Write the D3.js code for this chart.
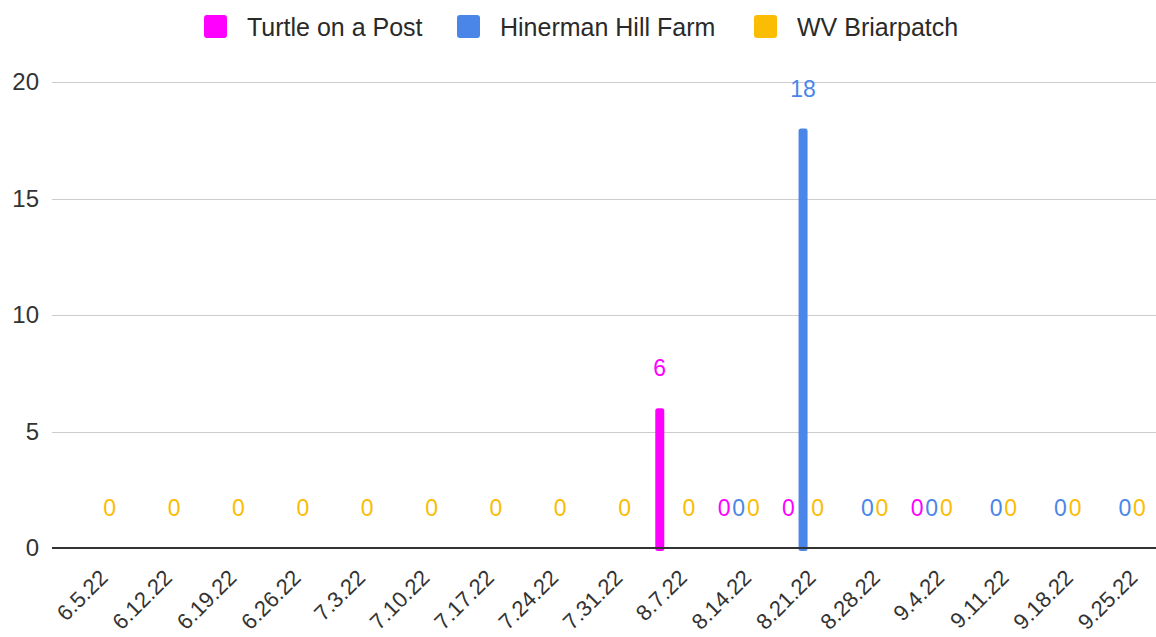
<!DOCTYPE html>
<html lang="en">
    <head>
        <meta charset="utf-8">
        <title>Weekly counts</title>
        <script src="https://cdn.jsdelivr.net/npm/d3@7"></script>
        <style type="text/css">
        body { margin: 0; background: #fff; }
        text { font-family: "Liberation Sans", Arial, sans-serif; }
        .grid line { stroke: #cccccc; stroke-width: 1; shape-rendering: crispEdges; }
        .axis text { fill: #333; font-size: 24px; }
        .legend text { fill: #2a2a2a; font-size: 25px; }
        .label { font-size: 23px; text-anchor: middle; }
        </style>
    </head>
    <body>
        <script>
                var w = 1156;
                var h = 637;

                var dates = ["6.5.22", "6.12.22", "6.19.22", "6.26.22", "7.3.22", "7.10.22", "7.17.22", "7.24.22", "7.31.22",
                             "8.7.22", "8.14.22", "8.21.22", "8.28.22", "9.4.22", "9.11.22", "9.18.22", "9.25.22"];
                var turtle   = [null, null, null, null, null, null, null, null, null, 6, 0, 0, null, 0, null, null, null];
                var hinerman = [null, null, null, null, null, null, null, null, null, null, 0, 18, 0, 0, 0, 0, 0];
                var briar    = [0, 0, 0, 0, 0, 0, 0, 0, 0, 0, 0, 0, 0, 0, 0, 0, 0];
                var seriesNames = ["Turtle on a Post", "Hinerman Hill Farm", "WV Briarpatch"];
                var colors = ["#ff00ff", "#4a86e8", "#fbbc04"];
                var yTicks = [0, 5, 10, 15, 20];

                var seriesData = [turtle, hinerman, briar];

                var x0 = d3.scaleBand()
                  .domain(dates)
                  .range([63, 1157])
                  .paddingInner(0.32)
                  .paddingOuter(0.16);

                var x1 = d3.scaleBand()
                  .domain(seriesNames)
                  .range([0, x0.bandwidth()]);

                var y = d3.scaleLinear()
                  .domain([0, 20])
                  .range([548, 82]);

                var svg = d3.select("body")
                  .append("svg")
                  .attr("width", w)
                  .attr("height", h);

                // gridlines
                svg.append("g")
                  .attr("class", "grid")
                  .selectAll("line")
                  .data(yTicks.filter(function(d) { return d > 0; }))
                  .enter().append("line")
                  .attr("x1", 52)
                  .attr("x2", w)
                  .attr("y1", function(d) { return Math.round(y(d)) + 0.5; })
                  .attr("y2", function(d) { return Math.round(y(d)) + 0.5; });

                // y axis labels
                var yAxis = svg.append("g")
                  .attr("class", "axis")
                  .attr("transform", "translate(39,0)")
                  .call(d3.axisLeft(y).tickValues(yTicks).tickSize(0).tickPadding(0));
                yAxis.select(".domain").remove();

                // flatten to bar records
                var records = [];
                seriesData.forEach(function(vals, si) {
                    vals.forEach(function(v, i) {
                        if (v !== null) {
                            records.push({ date: dates[i], series: seriesNames[si], color: colors[si], value: v });
                        }
                    });
                });

                var barW = 9;

                svg.selectAll(".bar")
                  .data(records.filter(function(d) { return d.value > 0; }))
                  .enter().append("rect")
                  .attr("class", "bar")
                  .attr("x", function(d) { return x0(d.date) + x1(d.series) + x1.bandwidth() / 2 - barW / 2; })
                  .attr("y", function(d) { return y(d.value); })
                  .attr("width", barW)
                  .attr("height", function(d) { return y(0) - y(d.value) + 3; })
                  .attr("rx", 2.5)
                  .attr("fill", function(d) { return d.color; });

                svg.selectAll(".label")
                  .data(records)
                  .enter().append("text")
                  .attr("class", "label")
                  .attr("x", function(d) { return x0(d.date) + x1(d.series) + x1.bandwidth() / 2; })
                  .attr("y", function(d) { return y(d.value) - 40; })
                  .attr("dy", "0.36em")
                  .attr("fill", function(d) { return d.color; })
                  .text(function(d) { return d.value; });

                // baseline
                svg.append("line")
                  .attr("x1", 52)
                  .attr("x2", w)
                  .attr("y1", y(0))
                  .attr("y2", y(0))
                  .attr("stroke", "#333")
                  .attr("stroke-width", 2);

                // x labels
                var xAxis = svg.append("g")
                  .attr("class", "axis")
                  .attr("transform", "translate(0," + y(0) + ")")
                  .call(d3.axisBottom(x0).tickSize(0).tickPadding(0));
                xAxis.select(".domain").remove();
                xAxis.selectAll("text")
                  .style("font-size", "22px")
                  .attr("text-anchor", "end")
                  .attr("y", 0)
                  .attr("dy", 0)
                  .attr("transform", "translate(14,31) rotate(-45)");

                // legend
                var legendX = [204, 457, 754];
                var legend = svg.append("g").attr("class", "legend");
                var items = legend.selectAll("g")
                  .data(seriesNames)
                  .enter().append("g")
                  .attr("transform", function(d, i) { return "translate(" + legendX[i] + ",15)"; });
                items.append("rect")
                  .attr("width", 23)
                  .attr("height", 23)
                  .attr("rx", 3)
                  .attr("fill", function(d, i) { return colors[i]; });
                items.append("text")
                  .attr("x", 43)
                  .attr("y", 12)
                  .attr("dy", "0.36em")
                  .text(function(d) { return d; });

            </script>
    </body>
</html>
